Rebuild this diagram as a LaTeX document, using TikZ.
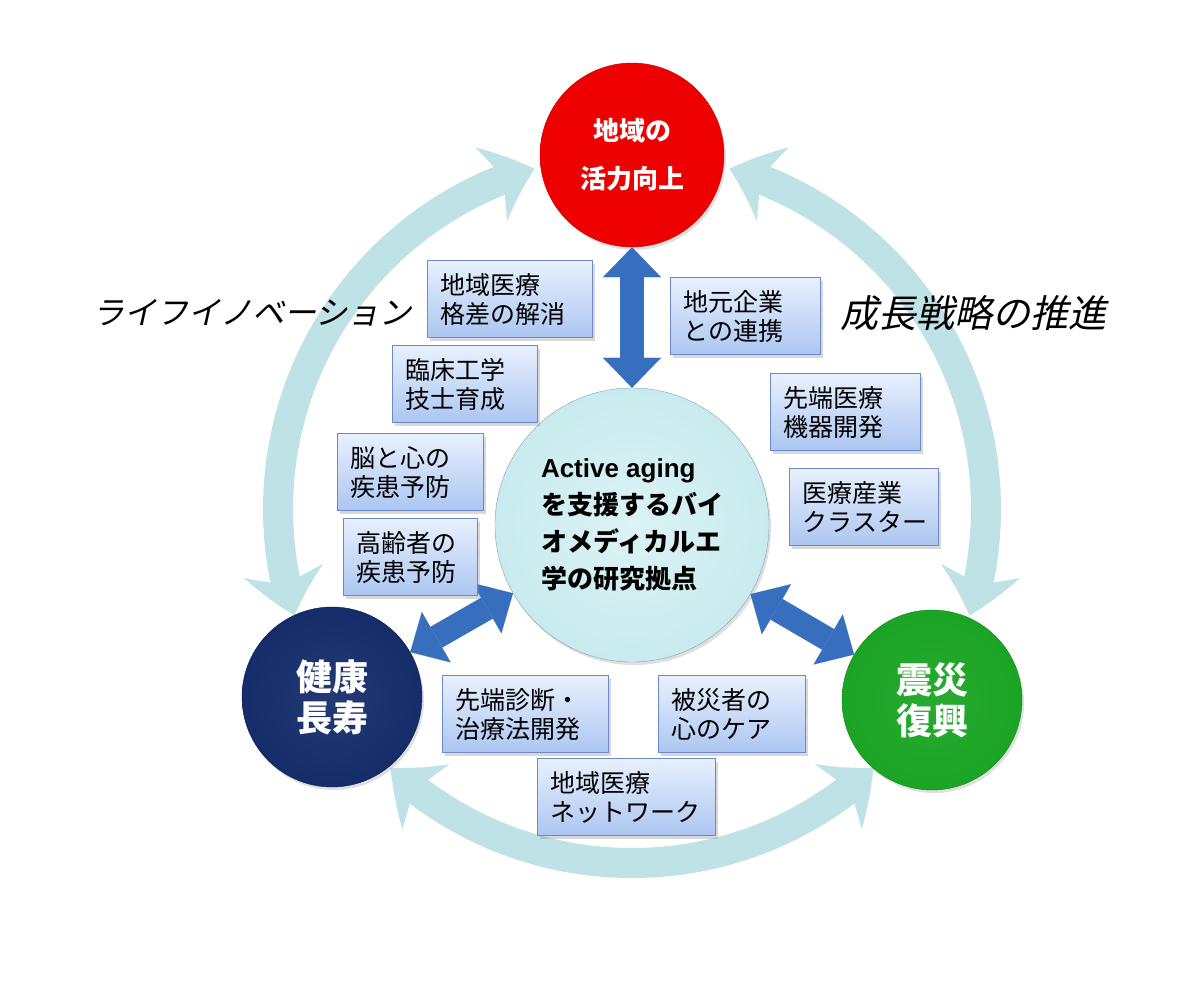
\documentclass[tikz,border=0pt]{standalone}
\usepackage{fontspec}
\newfontfamily\jp{Noto Sans CJK JP}
\newfontfamily\jpit[FakeSlant=0.22]{Noto Sans CJK JP}
\newfontfamily\lat{Liberation Sans}
\usetikzlibrary{arrows.meta,bending,shadows,calc}
\definecolor{ringc}{RGB}{190,226,230}
\definecolor{bluea}{RGB}{56,110,190}
\definecolor{boxtop}{RGB}{232,240,253}
\definecolor{boxbot}{RGB}{172,198,242}
\definecolor{boxline}{RGB}{108,138,200}
\definecolor{redc}{RGB}{238,0,0}
\definecolor{navyc}{RGB}{12,36,100}
\definecolor{greenc}{RGB}{20,162,30}
\definecolor{hubc}{RGB}{192,232,236}
\pgfdeclareradialshading{hubshade}{\pgfpoint{0bp}{0bp}}{color(0bp)=(hubc!55!white); color(36bp)=(hubc); color(50bp)=(hubc!82!black)}
\pgfdeclareradialshading{redshade}{\pgfpoint{0bp}{0bp}}{color(0bp)=(redc); color(40bp)=(redc); color(50bp)=(redc!85!black)}
\pgfdeclareradialshading{navyshade}{\pgfpoint{0bp}{0bp}}{color(0bp)=(navyc!90!white); color(40bp)=(navyc); color(50bp)=(navyc!85!black)}
\pgfdeclareradialshading{greenshade}{\pgfpoint{0bp}{0bp}}{color(0bp)=(greenc!92!white); color(40bp)=(greenc); color(50bp)=(greenc!85!black)}
\tikzset{
  infobox/.style={draw=boxline, line width=1.2pt, top color=boxtop, bottom color=boxbot,
    anchor=north west, minimum height=77pt, inner xsep=13pt, align=left,
    font=\jp\fontsize{25}{29}\selectfont,
    drop shadow={opacity=0.3, shadow xshift=2pt, shadow yshift=-3pt}},
  bigcircle/.style={circle, inner sep=0pt, text=white, align=center,
    drop shadow={opacity=0.25, shadow xshift=2pt, shadow yshift=-3pt}},
  ringarrow/.style={draw=ringc, line width=30pt,
    arrows={Stealth[bend,length=46pt,width=80pt,inset=14pt,line width=0.1pt]-Stealth[bend,length=46pt,width=80pt,inset=14pt,line width=0.1pt]}},
  dblarrow/.style={draw=bluea, line width=24pt,
    arrows={Triangle[length=30pt,width=58pt,line width=0.1pt]-Triangle[length=30pt,width=58pt,line width=0.1pt]}}
}
\begin{document}
\begin{tikzpicture}[x=1pt,y=1pt]
  \useasboundingbox[fill=white] (0,0) rectangle (1200,-982);
  \coordinate (ring) at (632,-509);
  \draw[ringarrow] ($(ring)+(197.5:354)$) arc[start angle=197.5, end angle=106, radius=354];
  \draw[ringarrow] ($(ring)+(74:354)$) arc[start angle=74, end angle=-17.5, radius=354];
  \draw[ringarrow] ($(ring)+(227:354)$) arc[start angle=227, end angle=313, radius=354];

  \node[font=\jpit\fontsize{32}{36}\selectfont] (life) at (252,-313) {ライフイノベーション};
  \node[font=\jpit\fontsize{38}{40}\selectfont] (growth) at (973,-313) {成長戦略の推進};

  \node[bigcircle, shading=redshade, draw=redc!80!black, minimum size=184pt,
    font=\jp\bfseries\fontsize{26}{48}\selectfont] (vital) at (632,-155) {地域の\\活力向上};
  \node[bigcircle, shading=hubshade, draw=hubc!70!black, minimum size=274pt, text=black, align=left,
    font=\jp\bfseries\fontsize{26}{37}\selectfont] (hub) at (632,-525)
    {{\lat Active aging}\\を支援するバイ\\オメディカルエ\\学の研究拠点};
  \node[bigcircle, shading=navyshade, draw=navyc!80!black, minimum size=180pt,
    font=\jp\bfseries\fontsize{36}{41}\selectfont] (health) at (332,-697) {健康\\長寿};
  \node[bigcircle, shading=greenshade, draw=greenc!80!black, minimum size=180pt,
    font=\jp\bfseries\fontsize{36}{41}\selectfont] (quake) at (932,-700) {震災\\復興};

  \draw[dblarrow] (vital) -- (hub);
  \draw[dblarrow] (hub) -- (health);
  \draw[dblarrow] (hub) -- (quake);

  \node[infobox, text width=139pt] (gap) at (427,-260) {地域医療\\格差の解消};
  \node[infobox, text width=124pt] (local) at (670,-277) {地元企業\\との連携};
  \node[infobox, text width=119pt] (clin) at (392,-345) {臨床工学\\技士育成};
  \node[infobox, text width=120pt] (brain) at (337,-433) {脳と心の\\疾患予防};
  \node[infobox, text width=108pt] (elder) at (343,-518) {高齢者の\\疾患予防};
  \node[infobox, text width=124pt] (device) at (770,-373) {先端医療\\機器開発};
  \node[infobox, text width=123pt] (cluster) at (789,-468) {医療産業\\クラスター};
  \node[infobox, text width=140pt] (diag) at (442,-675) {先端診断・\\治療法開発};
  \node[infobox, text width=121pt] (care) at (658,-675) {被災者の\\心のケア};
  \node[infobox, text width=152pt] (net) at (537,-758) {地域医療\\ネットワーク};
\end{tikzpicture}
\end{document}
